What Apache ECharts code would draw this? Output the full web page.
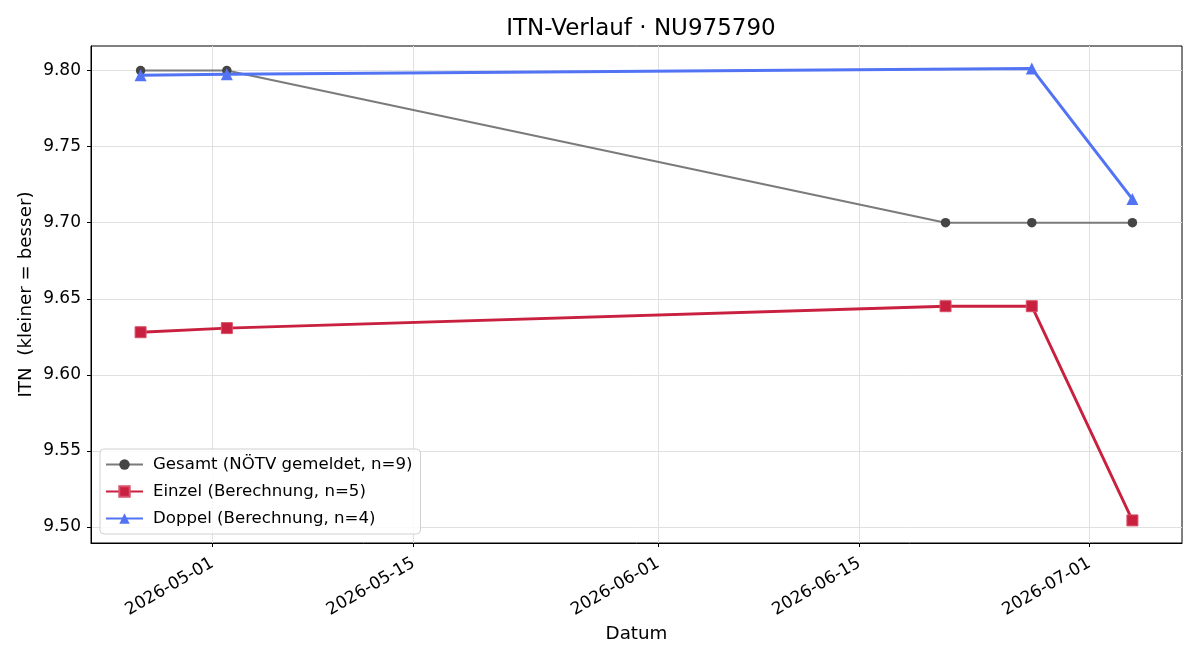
<!DOCTYPE html>
<html>
<head>
<meta charset="utf-8">
<script src="https://cdn.jsdelivr.net/npm/echarts@6/dist/echarts.min.js"></script>
<style>html,body{margin:0;padding:0;background:#fff}#c{width:1200px;height:660px}</style>
</head>
<body>
<div id="c"></div>
<script>
// ---- data ----
const gesamtDates = ['2026-04-26', '2026-05-02', '2026-06-21', '2026-06-27', '2026-07-04'];
const gesamtValues = [9.80, 9.80, 9.70, 9.70, 9.70];
const einzelDates = ['2026-04-26', '2026-05-02', '2026-06-21', '2026-06-27', '2026-07-04'];
const einzelValues = [9.628, 9.6307, 9.6451, 9.6451, 9.5043];
const doppelDates = ['2026-04-26', '2026-05-02', '2026-06-27', '2026-07-04'];
const doppelValues = [9.797, 9.7975, 9.8013, 9.7155];
const xTickDates = ['2026-05-01', '2026-05-15', '2026-06-01', '2026-06-15', '2026-07-01'];
const yTickValues = [9.50, 9.55, 9.60, 9.65, 9.70, 9.75, 9.80];
const seriesNames = ['Gesamt (NÖTV gemeldet, n=9)', 'Einzel (Berechnung, n=5)', 'Doppel (Berechnung, n=4)'];

function ts(s) { const p = s.split('-').map(Number); return new Date(p[0], p[1] - 1, p[2]).getTime(); }
function pairs(d, v) { return d.map((x, i) => [ts(x), v[i]]); }

const allX = gesamtDates.concat(einzelDates, doppelDates).map(ts);
const allY = gesamtValues.concat(einzelValues, doppelValues);
const xr = Math.max(...allX) - Math.min(...allX);
const yr = Math.max(...allY) - Math.min(...allY);
const xMin = Math.min(...allX) - 0.05 * xr, xMax = Math.max(...allX) + 0.05 * xr;
const yMin = Math.min(...allY) - 0.05 * yr, yMax = Math.max(...allY) + 0.05 * yr;

const FONT = 'DejaVu Sans';
const pad = n => (n < 10 ? '0' : '') + n;

const chart = echarts.init(document.getElementById('c'), null, { renderer: 'canvas' });
chart.setOption({
  animation: false,
  backgroundColor: '#fff',
  textStyle: { fontFamily: FONT },
  title: {
    text: 'ITN-Verlauf · NU975790',
    left: 636, top: 13, textAlign: 'center',
    textStyle: { fontFamily: FONT, fontSize: 23, fontWeight: 'normal', color: '#000' }
  },
  grid: { left: 91, right: 18, top: 46, bottom: 117, show: true, borderColor: '#000', borderWidth: 1, backgroundColor: 'transparent' },
  legend: {
    orient: 'vertical', left: 100, top: 449,
    padding: [6, 8, 6, 5],
    itemWidth: 37, itemHeight: 13, itemGap: 8,
    borderColor: '#d0d0d0', borderWidth: 1, borderRadius: 4,
    backgroundColor: 'rgba(255,255,255,0.85)',
    textStyle: { fontFamily: FONT, fontSize: 16.6, color: '#000', lineHeight: 19, padding: [0, 0, 0, 5] },
    data: seriesNames
  },
  xAxis: {
    type: 'value', min: xMin, max: xMax, scale: true,
    name: 'Datum', nameLocation: 'middle', nameGap: 82,
    nameTextStyle: { fontFamily: FONT, fontSize: 18.3, color: '#000' },
    axisLine: { show: true, lineStyle: { color: '#000', width: 1 } },
    axisTick: { show: true, length: 4, lineStyle: { color: '#000' }, customValues: xTickDates.map(ts) },
    axisLabel: {
      rotate: 30, margin: 19, color: '#000', fontFamily: FONT, fontSize: 17,
      customValues: xTickDates.map(ts),
      formatter: v => { const d = new Date(v); return d.getFullYear() + '-' + pad(d.getMonth() + 1) + '-' + pad(d.getDate()); }
    },
    splitLine: { show: true, lineStyle: { color: '#e0e0e0', width: 1 } }
  },
  yAxis: {
    type: 'value', min: yMin, max: yMax,
    name: 'ITN  (kleiner = besser)', nameLocation: 'middle', nameGap: 56, nameMoveOverlap: false,
    nameTextStyle: { fontFamily: FONT, fontSize: 18.3, color: '#000' },
    axisLine: { show: true, lineStyle: { color: '#000', width: 1 } },
    axisTick: { show: true, length: 4, lineStyle: { color: '#000' }, customValues: yTickValues },
    axisLabel: { color: '#000', fontFamily: FONT, fontSize: 17, margin: 10, customValues: yTickValues, formatter: v => v.toFixed(2) },
    splitLine: { show: true, lineStyle: { color: '#e0e0e0', width: 1 } }
  },
  series: [
    {
      name: seriesNames[0], type: 'line', data: pairs(gesamtDates, gesamtValues),
      symbol: 'circle', symbolSize: 9.5, z: 2,
      lineStyle: { color: '#7b7b7b', width: 2.1 },
      itemStyle: { color: '#454545', opacity: 1 }
    },
    {
      name: seriesNames[1], type: 'line', data: pairs(einzelDates, einzelValues),
      symbol: 'rect', symbolSize: 11, z: 3,
      lineStyle: { color: '#c9203f', width: 2.9 },
      itemStyle: { color: '#c9203f', borderColor: '#d8506a', borderWidth: 1 }
    },
    {
      name: seriesNames[2], type: 'line', data: pairs(doppelDates, doppelValues),
      symbol: 'triangle', symbolSize: 12, z: 4,
      lineStyle: { color: '#5273f3', width: 3 },
      itemStyle: { color: '#5273f3' }
    }
  ]
});
</script>
</body>
</html>
